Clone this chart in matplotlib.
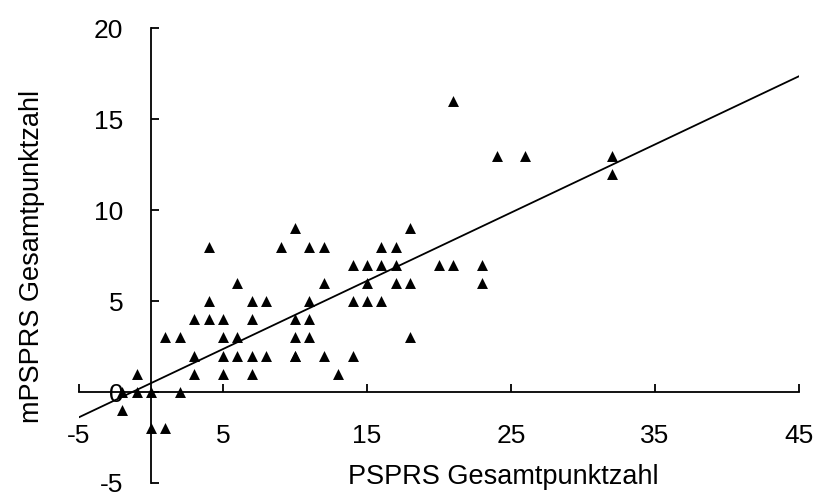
import matplotlib
matplotlib.use("Agg")
import matplotlib.pyplot as plt
import numpy as np

plt.rcParams['font.family'] = ['Liberation Sans', 'DejaVu Sans']
plt.rcParams['axes.unicode_minus'] = False

# Data (PSPRS total score vs. mPSPRS total score)
pspr_x = [-2, -2, -1, -1, 0, 0, 1, 1, 2, 2,
          3, 3, 3, 4, 4, 4, 5, 5, 5, 5,
          6, 6, 6, 7, 7, 7, 7, 8, 8, 9,
          10, 10, 10, 10, 10, 11, 11, 11, 11, 12,
          12, 12, 13, 14, 14, 14, 15, 15, 15, 16,
          16, 16, 17, 17, 17, 18, 18, 18, 20, 21,
          21, 23, 23, 24, 26, 32, 32]
mpspr_y = [0, -1, 1, 0, 0, -2, 3, -2, 3, 0,
           4, 2, 1, 8, 5, 4, 4, 3, 2, 1,
           6, 3, 2, 5, 4, 2, 1, 5, 2, 8,
           9, 4, 3, 2, 2, 8, 5, 4, 3, 8,
           6, 2, 1, 7, 5, 2, 7, 6, 5, 8,
           7, 5, 8, 7, 6, 9, 6, 3, 7, 16,
           7, 7, 6, 13, 13, 13, 12]

trend_slope = 0.375
trend_intercept = 0.49
trend_range = [-5, 45]

x_ticks = [-5, 5, 15, 25, 35, 45]
y_ticks = [-5, 0, 5, 10, 15, 20]

fig = plt.figure(figsize=(8.26, 4.96), dpi=100)
ax = fig.add_axes([79/826, 1-483/496, (799-79)/826, (483-28.3)/496])

ax.scatter(pspr_x, mpspr_y, marker='^', s=62, color='black', linewidths=0, zorder=3)
tx = np.array(trend_range, dtype=float)
ax.plot(tx, trend_slope*tx + trend_intercept, color='black', lw=1.3, zorder=2)

ax.set_xlim(-5, 45)
ax.set_ylim(-5, 20)
ax.spines['left'].set_position(('data', 0))
ax.spines['bottom'].set_position(('data', 0))
ax.spines['top'].set_visible(False)
ax.spines['right'].set_visible(False)
for s in ['left', 'bottom']:
    ax.spines[s].set_linewidth(1.3)
ax.set_xticks(x_ticks)
ax.set_yticks(y_ticks)
fs = 19
ax.tick_params(axis='x', direction='in', length=6, width=1.3, pad=23, labelsize=fs)
ax.tick_params(axis='y', direction='in', length=6, width=1.3, pad=20, labelsize=fs)
ax.patch.set_visible(False)

fig.text(503/826, 1-477/496, 'PSPRS Gesamtpunktzahl', ha='center', va='center', fontsize=fs + 0.5)
fig.text(32/826, 1-256/496, 'mPSPRS Gesamtpunktzahl', ha='center', va='center',
         rotation=90, fontsize=fs + 0.5)

fig.savefig('out.png', dpi=100)
